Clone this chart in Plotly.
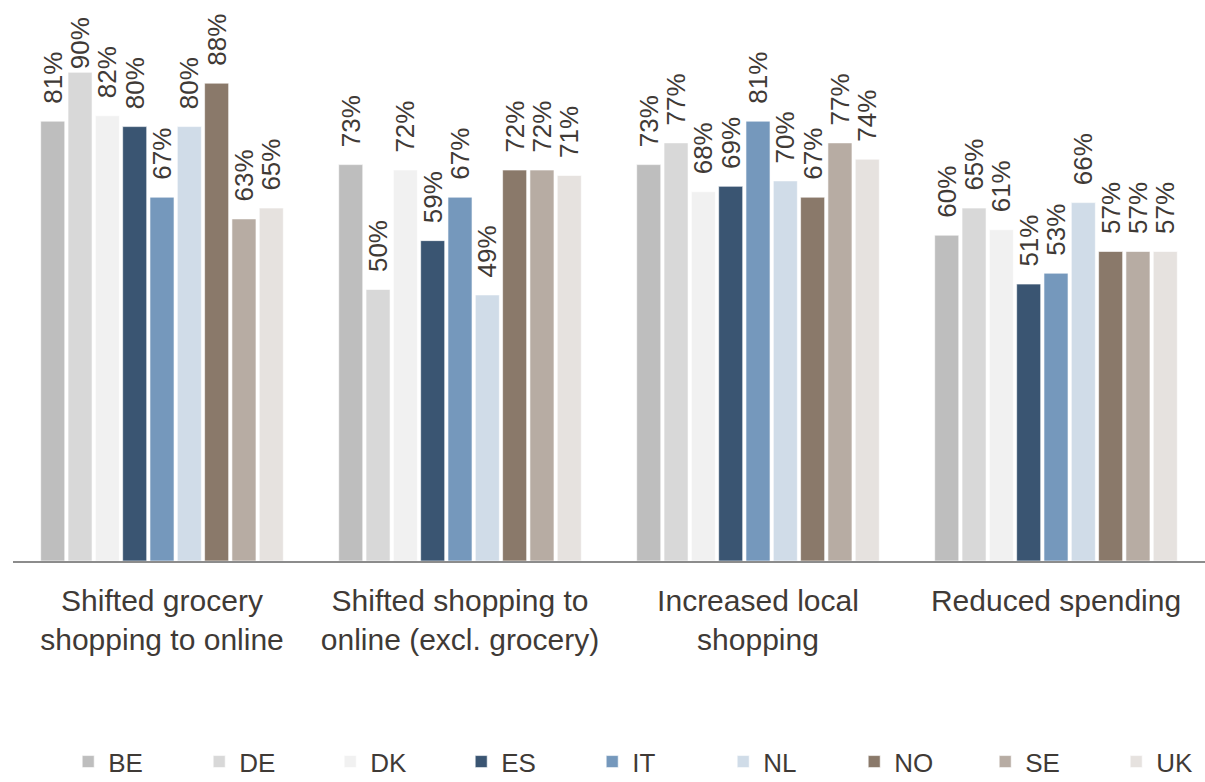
import plotly.graph_objects as go

categories = ["Shifted grocery<br>shopping to online",
              "Shifted shopping to<br>online (excl. grocery)",
              "Increased local<br>shopping",
              "Reduced spending"]
countries = ["BE", "DE", "DK", "ES", "IT", "NL", "NO", "SE", "UK"]
values = {
    "BE": [81, 73, 73, 60],
    "DE": [90, 50, 77, 65],
    "DK": [82, 72, 68, 61],
    "ES": [80, 59, 69, 51],
    "IT": [67, 67, 81, 53],
    "NL": [80, 49, 70, 66],
    "NO": [88, 72, 67, 57],
    "SE": [63, 72, 77, 57],
    "UK": [65, 71, 74, 57],
}
colors = {
    "BE": "#bebebe", "DE": "#d8d8d8", "DK": "#f1f1f1",
    "ES": "#3a5572", "IT": "#7598bc", "NL": "#d0dce8",
    "NO": "#8a796a", "SE": "#b7aca3", "UK": "#e6e2df",
}

FONT = "Liberation Sans"
TXT = "#3f3a36"


def label(v):
    # labels near the top of the chart area sit closer to the bar
    pad = "" if v >= 90 else "\u00a0\u00a0"
    return pad + f"{v}%"


fig = go.Figure()
for c in countries:
    fig.add_trace(go.Bar(
        name=c, x=categories, y=values[c],
        marker=dict(color=colors[c], line=dict(color="rgba(255,255,255,0.6)", width=1)),
        text=[label(v) for v in values[c]],
        textposition="outside", textangle=-90, constraintext="none",
        cliponaxis=False,
        textfont=dict(family=FONT, size=26, color=TXT),
    ))

fig.update_layout(
    width=1205, height=782,
    barmode="group", bargap=0.175, bargroupgap=0.12,
    margin=dict(l=13, r=0, t=18, b=221),
    plot_bgcolor="white", paper_bgcolor="white",
    font=dict(family=FONT, color=TXT),
    showlegend=True,
    legend=dict(orientation="h", xref="container", yref="container",
                x=0.0566, y=0.026, xanchor="left", yanchor="middle",
                entrywidth=86, entrywidthmode="pixels",
                font=dict(family=FONT, size=26, color=TXT),
                traceorder="normal"),
    xaxis=dict(showline=True, linecolor="#8c8c8c", linewidth=1.5,
               ticks="", ticklabelstandoff=12,
               tickfont=dict(family=FONT, size=30, color=TXT),
               showgrid=False),
    yaxis=dict(range=[0, 100], visible=False, showgrid=False),
)

fig.write_html("out.html")
